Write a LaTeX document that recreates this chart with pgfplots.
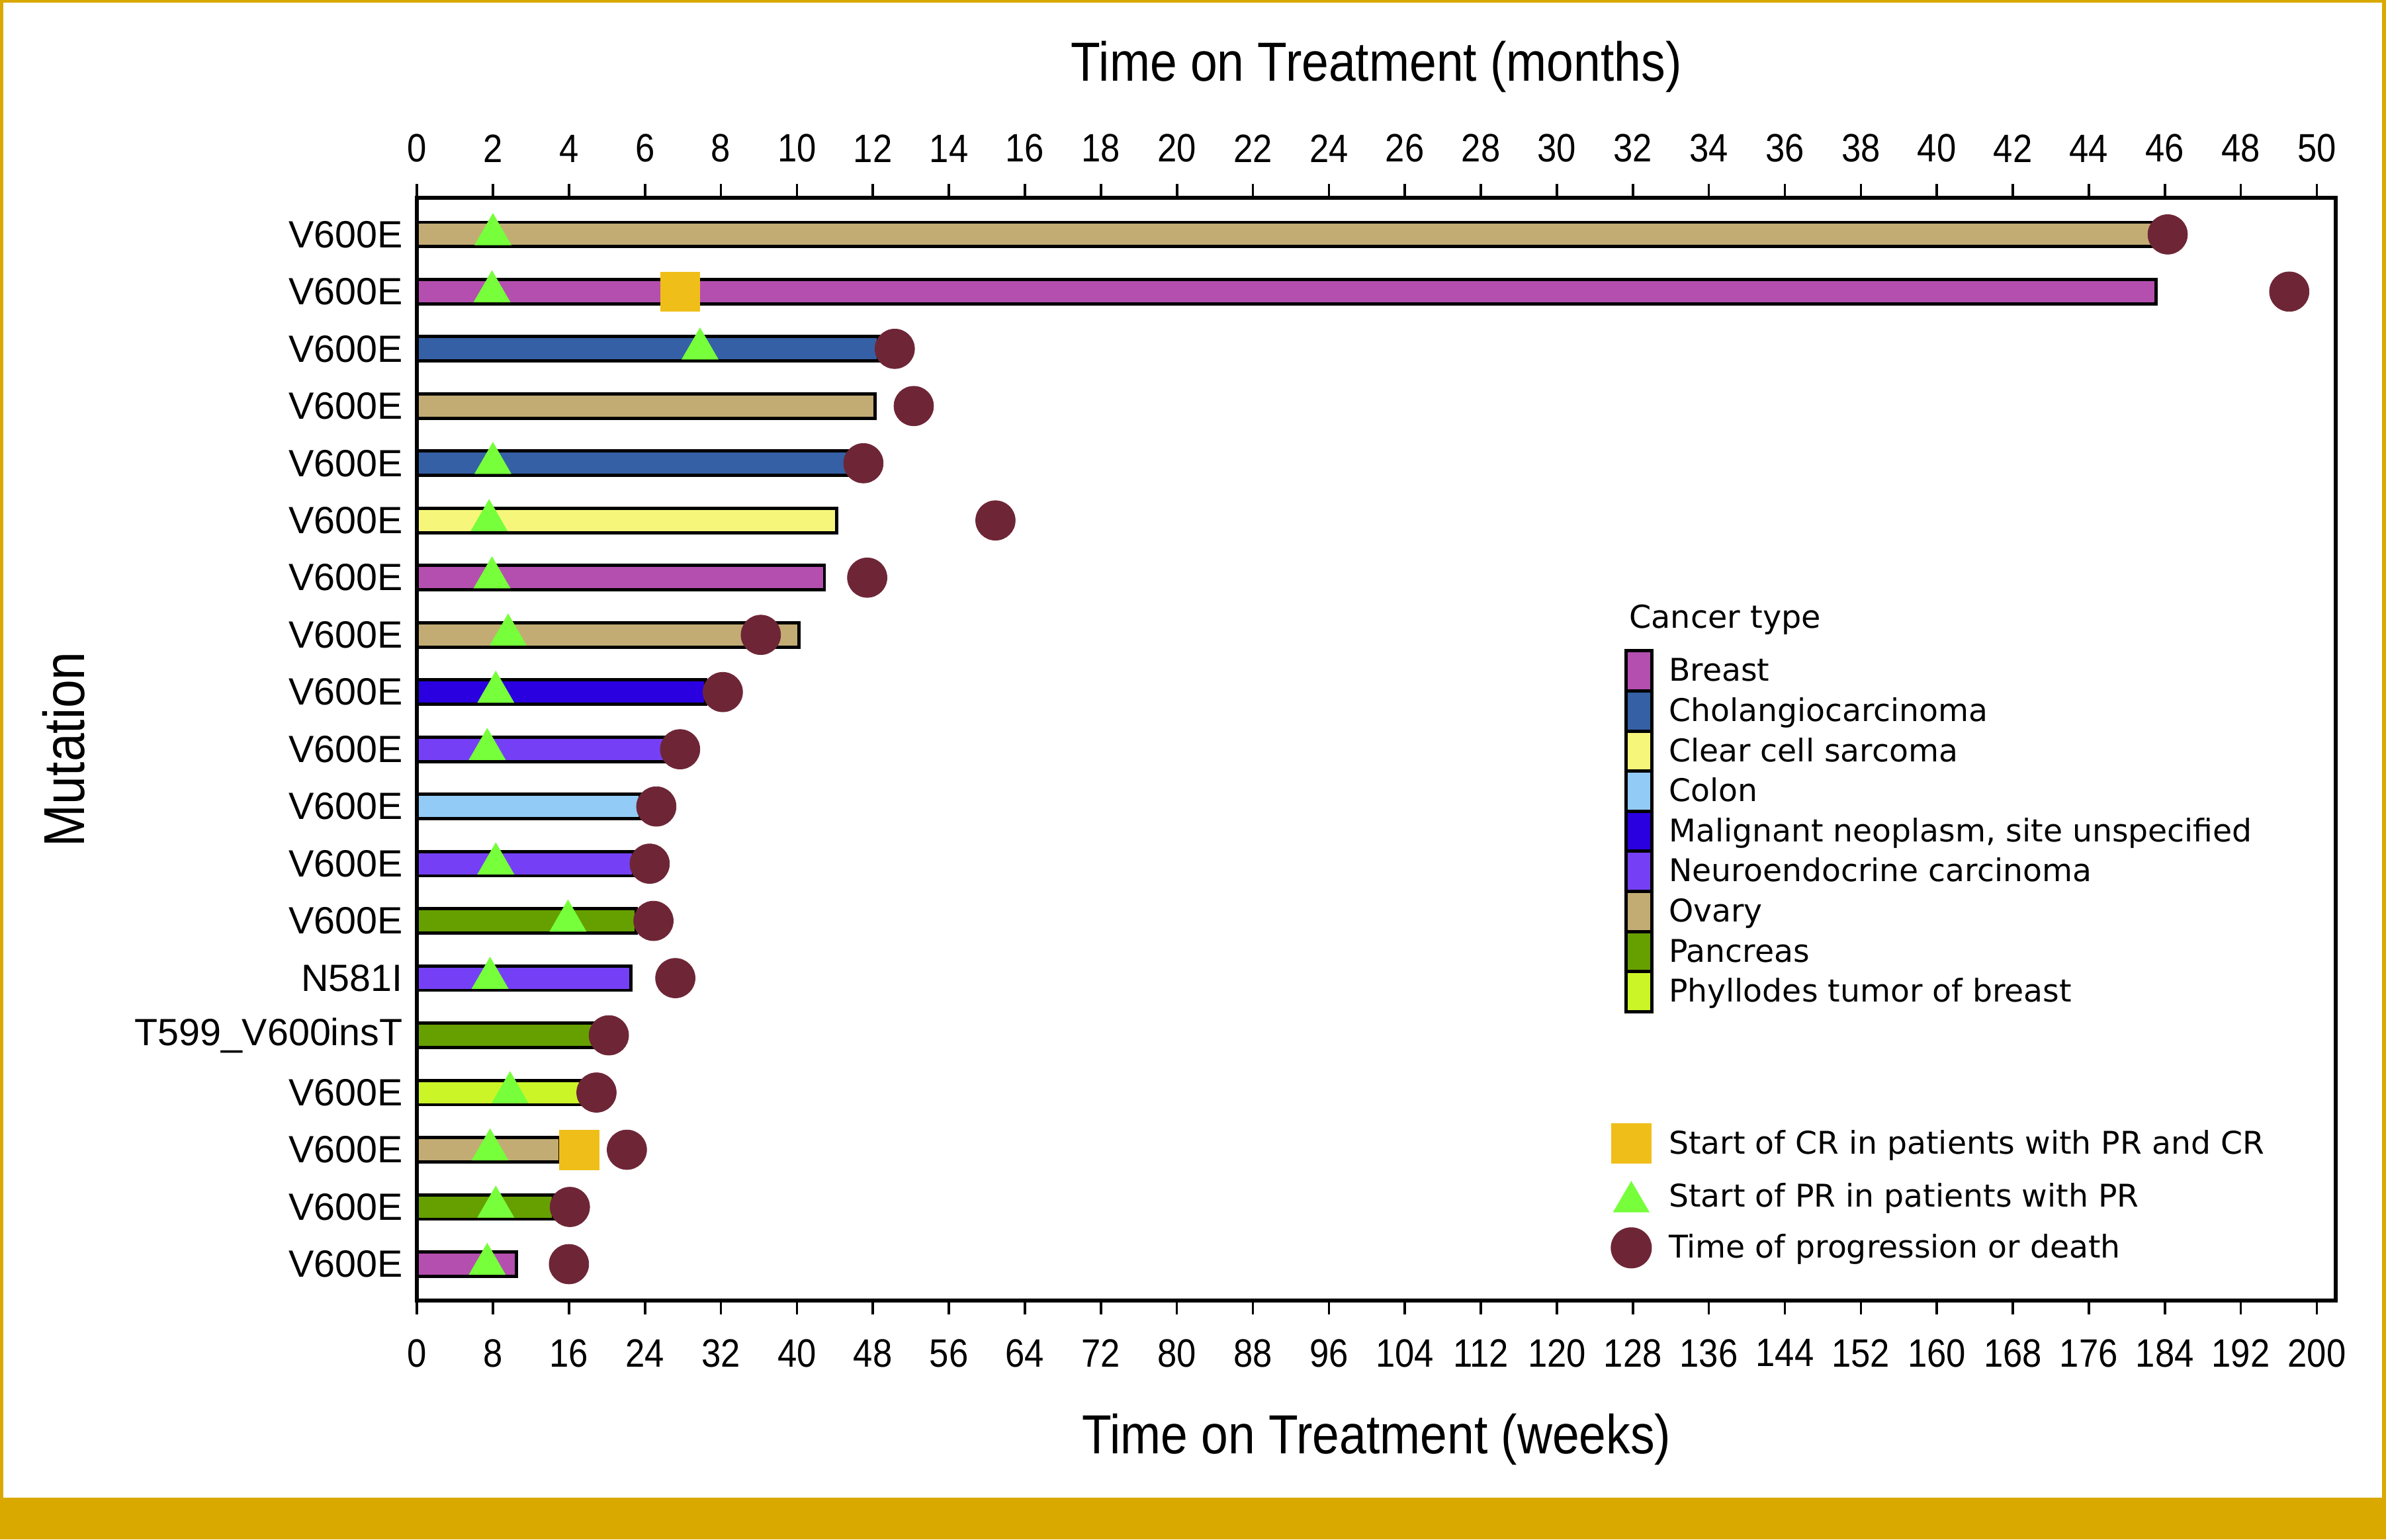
\documentclass[border=0pt]{standalone}
\usepackage{fontspec}
\setmainfont{Liberation Sans}
\newfontfamily\cnd{Liberation Sans}[FakeStretch=0.88]
\newfontfamily\lgd{DejaVu Sans}
\usepackage{pgfplots}
\pgfplotsset{compat=1.18}

\definecolor{cBreast}{RGB}{180,79,175}
\definecolor{cChol}{RGB}{53,96,165}
\definecolor{cClear}{RGB}{246,247,122}
\definecolor{cColon}{RGB}{146,203,245}
\definecolor{cMal}{RGB}{42,0,224}
\definecolor{cNeuro}{RGB}{117,64,245}
\definecolor{cOvary}{RGB}{194,172,116}
\definecolor{cPanc}{RGB}{102,160,0}
\definecolor{cPhyl}{RGB}{204,245,40}
\definecolor{cSq}{RGB}{240,190,24}
\definecolor{cTri}{RGB}{118,255,58}
\definecolor{cCirc}{RGB}{110,38,55}
\definecolor{gold}{RGB}{218,169,0}

\pgfplotsset{
  swim/.style={xbar, bar width=1.6mm, bar shift=0pt, draw=black, line width=0.6pt},
}

\begin{document}
\begin{tikzpicture}
\fill[white] (0,0) rectangle (156.8mm,-101.2mm);

% weeks axis with the bars
\begin{axis}[
  at={(27.4mm,-85.5mm)}, anchor=south west,
  scale only axis, width=126.1mm, height=72.5mm,
  xmin=0, xmax=202, ymin=0.36, ymax=19.64,
  xtick={0,8,...,200}, xtick pos=lower,
  ytick={1,...,19},
  yticklabels={V600E,V600E,V600E,V600E,T599\_V600insT,N581I,V600E,V600E,V600E,V600E,V600E,V600E,V600E,V600E,V600E,V600E,V600E,V600E,V600E},
  ytick style={draw=none},
  tick align=outside, major tick length=0.9mm,
  tick style={black, line width=0.45pt},
  axis line style={line width=0.75pt},
  /pgf/number format/assume math mode=true,
  x tick label style={font=\cnd\fontsize{7.4}{8}\selectfont},
  xticklabel shift=0.4mm,
  y tick label style={font=\fontsize{7.1}{8}\selectfont},
  yticklabel shift=-1.2mm,
  xlabel={Time on Treatment (weeks)},
  xlabel style={font=\cnd\fontsize{10.3}{12}\selectfont, at={(axis description cs:0.5,-0.1255)}, anchor=center},
  ylabel={Mutation},
  ylabel style={font=\cnd\fontsize{10.8}{12}\selectfont, at={(axis description cs:-0.184,0.5)}, anchor=center},
  clip=false,
]
% Breast
\addplot[swim, fill=cBreast] coordinates {(183.1,18) (42.9,13) (10.5,1)};
% Cholangiocarcinoma
\addplot[swim, fill=cChol] coordinates {(48.6,17) (45.8,15)};
% Clear cell sarcoma
\addplot[swim, fill=cClear] coordinates {(44.2,14)};
% Colon
\addplot[swim, fill=cColon] coordinates {(23.5,9)};
% Malignant neoplasm
\addplot[swim, fill=cMal] coordinates {(30.4,11)};
% Neuroendocrine
\addplot[swim, fill=cNeuro] coordinates {(26.1,10) (22.8,8) (22.5,6)};
% Ovary
\addplot[swim, fill=cOvary] coordinates {(183.0,19) (48.2,16) (40.2,12) (15.1,3)};
% Pancreas
\addplot[swim, fill=cPanc] coordinates {(23.1,7) (18.6,5) (14.4,2)};
% Phyllodes
\addplot[swim, fill=cPhyl] coordinates {(17.4,4)};

% start of CR
\addplot[only marks, mark=square*, color=cSq, mark size=1.3mm, mark options={line width=0.1pt}]
  coordinates {(27.7,18) (17.1,3)};
% start of PR
\addplot[only marks, mark=triangle*, color=cTri, mark size=1.37mm, mark options={line width=0.1pt}]
  coordinates {(8.0,19) (7.9,18) (29.8,17) (8.0,15) (7.6,14) (7.9,13) (9.6,12) (8.3,11)
               (7.4,10) (8.3,8) (15.9,7) (7.7,6) (9.8,4) (7.7,3) (8.3,2) (7.4,1)};
% progression or death
\addplot[only marks, mark=*, color=cCirc, mark size=1.3mm, mark options={line width=0.1pt}]
  coordinates {(184.3,19) (197.1,18) (50.3,17) (52.3,16) (47.0,15) (60.9,14) (47.4,13)
               (36.2,12) (32.2,11) (27.7,10) (25.2,9) (24.5,8) (24.9,7) (27.2,6) (20.2,5)
               (18.9,4) (22.1,3) (16.1,2) (16.0,1)};
\end{axis}

% months axis on top
\begin{axis}[
  at={(27.4mm,-85.5mm)}, anchor=south west,
  scale only axis, width=126.1mm, height=72.5mm,
  xmin=0, xmax=50.5, ymin=0, ymax=1,
  axis x line*=top, axis y line=none,
  xtick={0,2,...,50},
  tick align=outside, major tick length=0.9mm,
  tick style={black, line width=0.45pt},
  axis line style={line width=0.75pt},
  /pgf/number format/assume math mode=true,
  x tick label style={font=\cnd\fontsize{7.4}{8}\selectfont},
  xticklabel shift=0.2mm,
  xlabel={Time on Treatment (months)},
  xlabel style={font=\cnd\fontsize{10.3}{12}\selectfont, at={(axis description cs:0.5,1.1186)}, anchor=center},
]
\end{axis}

% legend
\begin{scope}[x=0.1mm, y=-0.1mm]
  \node[anchor=base west, inner sep=0, font=\lgd\fontsize{5.9}{7}\selectfont] at (1070,413) {Cancer type};
  \foreach \c/\t [count=\i] in {cBreast/Breast, cChol/Cholangiocarcinoma, cClear/Clear cell sarcoma,
      cColon/Colon, cMal/{Malignant neoplasm, site unspecified}, cNeuro/Neuroendocrine carcinoma,
      cOvary/Ovary, cPanc/Pancreas, cPhyl/Phyllodes tumor of breast} {
    \pgfmathsetmacro{\yt}{427.8+26.35*(\i-1)}
    \pgfmathsetmacro{\yb}{\yt+26.35}
    \filldraw[fill=\c, draw=black, line width=0.6pt] (1068.7,\yt) rectangle (1085.4,\yb);
    \node[anchor=base west, inner sep=0, font=\lgd\fontsize{5.85}{7}\selectfont] at (1096,\yt+20) {\t};
  }
  \fill[cSq] (1058.7,738.1) rectangle (1085.4,765);
  \fill[cTri] (1072,776.2) -- (1084,796.8) -- (1060,796.8) -- cycle;
  \fill[cCirc] (1072,820.2) circle[radius=1.35mm];
  \node[anchor=base west, inner sep=0, font=\lgd\fontsize{5.85}{7}\selectfont] at (1096,758.6) {Start of CR in patients with PR and CR};
  \node[anchor=base west, inner sep=0, font=\lgd\fontsize{5.85}{7}\selectfont] at (1096,793.1) {Start of PR in patients with PR};
  \node[anchor=base west, inner sep=0, font=\lgd\fontsize{5.85}{7}\selectfont] at (1096,826.7) {Time of progression or death};
\end{scope}

% journal frame
\fill[gold] (0,0) rectangle (156.8mm,-0.18mm);
\fill[gold] (0,0) rectangle (0.2mm,-101.2mm);
\fill[gold] (156.55mm,0) rectangle (156.8mm,-101.2mm);
\fill[gold] (0,-98.45mm) rectangle (156.8mm,-101.2mm);

\pgfresetboundingbox
\useasboundingbox (0,0) rectangle (156.8mm,-101.2mm);
\end{tikzpicture}
\end{document}
